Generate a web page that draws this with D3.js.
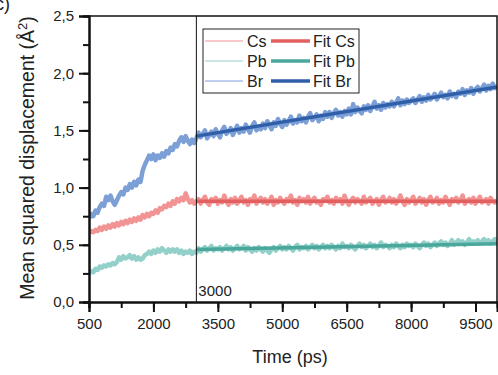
<!DOCTYPE html>
<html>
<head>
<meta charset="utf-8">
<script src="https://cdn.jsdelivr.net/npm/d3@7"></script>
<style>
  body { margin: 0; background: #fff; }
  svg text { font-family: Arial, "Liberation Sans", sans-serif; fill: #222; }
</style>
</head>
<body>
<div id="chart"></div>
<script>
// time grid 500..10000 step 50 ps
const times = d3.range(500, 10001, 50);

// MSD values (Å²), one row = 500 ps
const cs = [
  0.60, 0.62, 0.61, 0.63, 0.62, 0.65, 0.63, 0.66, 0.64, 0.67,
  0.65, 0.68, 0.66, 0.69, 0.67, 0.70, 0.68, 0.71, 0.69, 0.72,
  0.70, 0.73, 0.71, 0.74, 0.72, 0.76, 0.74, 0.77, 0.75, 0.78,
  0.77, 0.80, 0.78, 0.82, 0.81, 0.84, 0.83, 0.86, 0.84, 0.88,
  0.86, 0.90, 0.88, 0.91, 0.89, 0.95, 0.90, 0.87, 0.89, 0.86,
  0.88,
  0.90, 0.86, 0.89, 0.92, 0.87, 0.85, 0.90, 0.88, 0.91, 0.86,
  0.89, 0.87, 0.93, 0.88, 0.85, 0.90, 0.87, 0.91, 0.86, 0.89,
  0.92, 0.87, 0.89, 0.85, 0.90, 0.88, 0.93, 0.86, 0.89, 0.91,
  0.87, 0.90, 0.86, 0.88, 0.92, 0.85, 0.89, 0.87, 0.91, 0.88,
  0.86, 0.90, 0.88, 0.93, 0.87, 0.89, 0.85, 0.91, 0.88, 0.90,
  0.87, 0.92, 0.86, 0.89, 0.91, 0.87, 0.88, 0.85, 0.90, 0.89,
  0.92, 0.87, 0.89, 0.86, 0.91, 0.88, 0.90, 0.86, 0.93, 0.88,
  0.85, 0.89, 0.91, 0.87, 0.90, 0.88, 0.86, 0.92, 0.87, 0.89,
  0.91, 0.86, 0.88, 0.90, 0.85, 0.89, 0.92, 0.87, 0.88, 0.91,
  0.87, 0.90, 0.86, 0.89, 0.93, 0.88, 0.85, 0.90, 0.87, 0.89,
  0.92, 0.86, 0.88, 0.91, 0.87, 0.90, 0.85, 0.89, 0.92, 0.87,
  0.88, 0.91, 0.86, 0.89, 0.87, 0.92, 0.88, 0.85, 0.90, 0.88,
  0.91, 0.87, 0.89, 0.93, 0.86, 0.88, 0.90, 0.87, 0.91, 0.86,
  0.89, 0.92, 0.87, 0.88, 0.90, 0.86, 0.91, 0.88, 0.87, 0.89
];
const pb = [
  0.25, 0.27, 0.26, 0.29, 0.28, 0.31, 0.30, 0.32, 0.31, 0.33,
  0.32, 0.34, 0.33, 0.35, 0.39, 0.37, 0.40, 0.38, 0.39, 0.41,
  0.38, 0.40, 0.37, 0.39, 0.37, 0.38, 0.41, 0.42, 0.44, 0.42,
  0.45, 0.43, 0.46, 0.44, 0.47, 0.45, 0.43, 0.46, 0.44, 0.46,
  0.44, 0.46, 0.43, 0.45, 0.42, 0.44, 0.43, 0.45, 0.42, 0.44,
  0.43,
  0.47, 0.44, 0.46, 0.48, 0.45, 0.47, 0.49, 0.45, 0.47, 0.46,
  0.48, 0.45, 0.47, 0.49, 0.46, 0.48, 0.45, 0.47, 0.49, 0.46,
  0.47, 0.49, 0.45, 0.48, 0.46, 0.44, 0.47, 0.45, 0.48, 0.46,
  0.44, 0.47, 0.45, 0.43, 0.46, 0.48, 0.45, 0.47, 0.49, 0.46,
  0.48, 0.46, 0.49, 0.47, 0.45, 0.48, 0.50, 0.46, 0.48, 0.47,
  0.49, 0.46, 0.48, 0.50, 0.47, 0.49, 0.46, 0.48, 0.50, 0.47,
  0.49, 0.47, 0.50, 0.48, 0.46, 0.49, 0.47, 0.51, 0.48, 0.49,
  0.47, 0.50, 0.48, 0.46, 0.49, 0.51, 0.48, 0.50, 0.47, 0.49,
  0.51, 0.48, 0.50, 0.47, 0.49, 0.52, 0.48, 0.50, 0.49, 0.47,
  0.50, 0.48, 0.51, 0.49, 0.47, 0.50, 0.48, 0.51, 0.49, 0.50,
  0.48, 0.51, 0.49, 0.47, 0.50, 0.52, 0.49, 0.51, 0.48, 0.50,
  0.52, 0.49, 0.51, 0.53, 0.50, 0.52, 0.49, 0.51, 0.54, 0.50,
  0.52, 0.54, 0.51, 0.53, 0.50, 0.52, 0.55, 0.51, 0.53, 0.52,
  0.54, 0.51, 0.53, 0.55, 0.52, 0.54, 0.51, 0.53, 0.55, 0.52
];
const br = [
  0.73, 0.77, 0.75, 0.80, 0.78, 0.83, 0.86, 0.84, 0.92, 0.89,
  0.93, 0.88, 0.85, 0.89, 0.93, 0.96, 0.94, 1.00, 0.98, 1.03,
  1.00, 1.05, 1.02, 1.07, 1.05, 1.15, 1.20, 1.24, 1.28, 1.25,
  1.29, 1.24, 1.28, 1.26, 1.30, 1.27, 1.32, 1.30, 1.35, 1.33,
  1.38, 1.36, 1.41, 1.44, 1.40, 1.45, 1.41, 1.38, 1.42, 1.39,
  1.43,
  1.48, 1.44, 1.47, 1.50, 1.43, 1.46, 1.49, 1.45, 1.51, 1.47,
  1.44, 1.50, 1.53, 1.47, 1.49, 1.52, 1.46, 1.50, 1.54, 1.48,
  1.52, 1.49, 1.55, 1.51, 1.48, 1.54, 1.57, 1.50, 1.53, 1.51,
  1.56, 1.52, 1.58, 1.55, 1.51, 1.57, 1.54, 1.60, 1.56, 1.53,
  1.59, 1.55, 1.58, 1.62, 1.56, 1.59, 1.57, 1.63, 1.58, 1.61,
  1.57, 1.62, 1.65, 1.59, 1.61, 1.64, 1.58, 1.63, 1.60, 1.66,
  1.62, 1.66, 1.61, 1.65, 1.68, 1.63, 1.66, 1.62, 1.67, 1.64,
  1.69, 1.64, 1.73, 1.66, 1.70, 1.67, 1.65, 1.71, 1.68, 1.72,
  1.67, 1.71, 1.75, 1.69, 1.72, 1.68, 1.74, 1.70, 1.73, 1.71,
  1.75, 1.71, 1.74, 1.78, 1.72, 1.76, 1.73, 1.77, 1.74, 1.76,
  1.78, 1.74, 1.77, 1.80, 1.75, 1.79, 1.76, 1.81, 1.77, 1.79,
  1.82, 1.77, 1.80, 1.83, 1.79, 1.81, 1.78, 1.84, 1.80, 1.82,
  1.79, 1.84, 1.82, 1.86, 1.81, 1.85, 1.83, 1.87, 1.82, 1.86,
  1.88, 1.84, 1.87, 1.90, 1.85, 1.89, 1.86, 1.91, 1.87, 1.89
];

// linear fits from 3000 ps onwards
const fitTimes = [3000, 10000];
const fitCs = [0.88, 0.88];
const fitPb = [0.46, 0.51];
const fitBr = [1.45, 1.88];

const xTicks = [500, 2000, 3500, 5000, 6500, 8000, 9500];
const yTicks = [0, 0.5, 1.0, 1.5, 2.0, 2.5];
const cutTime = 3000;

const series = [
  { name: "Cs", values: cs, fit: fitCs, light: "#f29494", dark: "#e2605f" },
  { name: "Pb", values: pb, fit: fitPb, light: "#93d0c9", dark: "#4aa79c" },
  { name: "Br", values: br, fit: fitBr, light: "#7c9fd6", dark: "#2f5fa9" }
];

const W = 498, H = 375;
const mLeft = 89, mRight = 497, mTop = 16, mBottom = 302;
const font = "Arial, 'Liberation Sans', sans-serif";

const svg = d3.select("#chart")
              .append("svg")
              .attr("width", W)
              .attr("height", H)
              .attr("font-family", font)

const xScale = d3.scaleLinear()
                 .domain([500, 10000])
                 .range([mLeft, mRight])

const yScale = d3.scaleLinear()
                 .domain([0, 2.5])
                 .range([mBottom, mTop])

svg.append("clipPath")
   .attr("id", "clip")
   .append("rect")
   .attr("x", mLeft)
   .attr("y", mTop)
   .attr("width", mRight - mLeft)
   .attr("height", mBottom - mTop)

const plot = svg.append("g").attr("clip-path", "url(#clip)")

const line = d3.line()
               .x(d => xScale(d[0]))
               .y(d => yScale(d[1]))

// noisy raw data
series.forEach(s => {
  const pts = times.map((t, i) => [t, s.values[i]]);
  plot.append("path")
      .attr("d", line(pts))
      .attr("fill", "none")
      .attr("stroke", s.light)
      .attr("stroke-width", 4.5)
      .attr("stroke-linejoin", "round")
})

series.forEach(s => {
  plot.append("path")
      .attr("d", line(fitTimes.map((t, i) => [t, s.fit[i]])))
      .attr("fill", "none")
      .attr("stroke", s.dark)
      .attr("stroke-width", 3.5)
})

// marker at 3000 ps
svg.append("line")
   .attr("x1", xScale(cutTime)).attr("x2", xScale(cutTime))
   .attr("y1", mTop).attr("y2", mBottom)
   .attr("stroke", "#111")
   .attr("stroke-width", 1)

svg.append("text")
   .attr("x", xScale(cutTime) + 2)
   .attr("y", mBottom - 6)
   .attr("font-size", 15)
   .text("3000")

// frame
svg.append("path")
   .attr("d", `M${mLeft},${mTop}H${mRight}V${mBottom}`)
   .attr("fill", "none")
   .attr("stroke", "#111")
   .attr("stroke-width", 1.5)

const xAxis = d3.axisBottom(xScale)
                .tickValues(xTicks)
                .tickSize(10)
                .tickPadding(6)
                .tickFormat(d3.format("d"))

const xMinor = d3.axisBottom(xScale)
                 .tickValues(d3.range(500, 10001, 750))
                 .tickSize(6)
                 .tickFormat("")

const yAxis = d3.axisLeft(yScale)
                .tickValues(yTicks)
                .tickSize(10)
                .tickPadding(5)
                .tickFormat(d => d3.format(".1f")(d).replace(".", ","))

const yMinor = d3.axisLeft(yScale)
                 .tickValues(d3.range(0, 2.51, 0.25))
                 .tickSize(6)
                 .tickFormat("")

const styleAxis = g => {
  g.attr("font-family", font).attr("font-size", 15)
  g.select(".domain").attr("stroke", "#111").attr("stroke-width", 2)
  g.selectAll(".tick line").attr("stroke", "#111").attr("stroke-width", 2)
  g.selectAll(".tick text").attr("fill", "#222")
}

svg.append("g")
   .attr("transform", `translate(0, ${mBottom})`)
   .call(xMinor)
   .call(styleAxis)

svg.append("g")
   .attr("id", "x-axis")
   .attr("transform", `translate(0, ${mBottom})`)
   .call(xAxis)
   .call(styleAxis)

svg.append("g")
   .attr("transform", `translate(${mLeft}, 0)`)
   .call(yMinor)
   .call(styleAxis)

svg.append("g")
   .attr("id", "y-axis")
   .attr("transform", `translate(${mLeft}, 0)`)
   .call(yAxis)
   .call(styleAxis)

// titles
svg.append("text")
   .attr("x", 290)
   .attr("y", 363)
   .attr("text-anchor", "middle")
   .attr("font-size", 18)
   .text("Time (ps)")

svg.append("text")
   .attr("transform", `translate(34, 158) rotate(-90)`)
   .attr("text-anchor", "middle")
   .attr("font-size", 19.5)
   .html("Mean squared displacement (Å<tspan baseline-shift='super' font-size='13'>2</tspan>)")

svg.append("text")
   .attr("x", 10)
   .attr("y", 10)
   .attr("text-anchor", "end")
   .attr("font-size", 18)
   .text("c)")

// legend
const legend = svg.append("g").attr("transform", "translate(203, 29)")

legend.append("rect")
      .attr("width", 156)
      .attr("height", 64)
      .attr("fill", "#fff")
      .attr("stroke", "#222")
      .attr("stroke-width", 1)

series.forEach((s, i) => {
  const row = legend.append("g").attr("transform", `translate(0, ${12 + i * 20})`)
  row.append("line")
     .attr("x1", 2).attr("x2", 40)
     .attr("stroke", s.light).attr("stroke-width", 1.2)
  row.append("text")
     .attr("x", 44).attr("y", 6)
     .attr("font-size", 16)
     .text(s.name)
  row.append("line")
     .attr("x1", 68).attr("x2", 107)
     .attr("stroke", s.dark).attr("stroke-width", 3.5)
  row.append("text")
     .attr("x", 110).attr("y", 6)
     .attr("font-size", 16)
     .text("Fit " + s.name)
})
</script>
</body>
</html>
